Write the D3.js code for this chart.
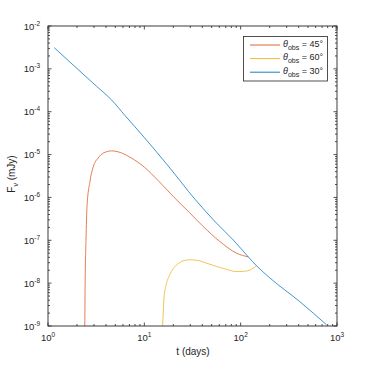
<!DOCTYPE html>
<html>
<head>
<meta charset="utf-8">
<script src="https://cdn.jsdelivr.net/npm/d3@7"></script>
<style>
  body { margin: 0; background: #fff; }
  text { font-family: "Liberation Sans", Arial, Helvetica, sans-serif; fill: #262626; }
</style>
</head>
<body>
<script>
// values (t in days, F in mJy)
const tBlue = [1.16, 2.0, 3.16, 4.57, 6.31, 10, 18.5, 33.5, 56.2, 83.6, 120, 146, 201, 411, 778];
const fBlue = [3.12e-3, 1.02e-3, 4.0e-4, 1.88e-4, 8.1e-5, 2.5e-5, 4.8e-6, 9.1e-7, 2.5e-7, 1.02e-7, 4.1e-8, 2.55e-8, 1.32e-8, 3.7e-9, 1.07e-9];

const tOrange = [2.41, 2.43, 2.48, 2.54, 2.73, 2.95, 3.31, 3.80, 4.57, 5.62, 7.08, 10, 14.1, 20.4, 29.5, 40.8, 60.3, 90.6, 119.7];
const fOrange = [1e-9, 1e-8, 1e-7, 6.2e-7, 2.4e-6, 5.2e-6, 8.3e-6, 1.1e-5, 1.22e-5, 1.12e-5, 8.7e-6, 5.1e-6, 2.4e-6, 1.0e-6, 4.4e-7, 2.1e-7, 9.5e-8, 5.0e-8, 4.1e-8];

const tYellow = [15.5, 15.7, 16.0, 16.8, 18.2, 20.0, 22.9, 26.3, 29.5, 35.5, 44.7, 56.2, 70.8, 90.6, 112, 126, 146];
const fYellow = [1e-9, 2.0e-9, 4.5e-9, 8.9e-9, 1.5e-8, 2.2e-8, 2.95e-8, 3.4e-8, 3.5e-8, 3.4e-8, 2.9e-8, 2.45e-8, 2.1e-8, 1.86e-8, 1.9e-8, 2.04e-8, 2.55e-8];

const xDecades = [0, 1, 2, 3];
const yDecades = [-9, -8, -7, -6, -5, -4, -3, -2];
const legendAngles = ["45", "60", "30"];

const width = 372;
const height = 366;
const plotL = 48, plotR = 337, plotT = 26, plotB = 326;

const svg = d3.select("body").append("svg")
    .attr("width", width)
    .attr("height", height);

const x = d3.scaleLog().domain([1, 1000]).range([plotL, plotR]);
const y = d3.scaleLog().domain([1e-9, 1e-2]).range([plotB, plotT]);

svg.append("clipPath").attr("id", "clip")
  .append("rect")
    .attr("x", plotL).attr("y", plotT)
    .attr("width", plotR - plotL).attr("height", plotB - plotT);

const line = d3.line()
    .x(d => x(d[0]))
    .y(d => y(d[1]))
    .curve(d3.curveMonotoneX);

const series = [
    { t: tOrange, f: fOrange, color: "#D95319" },
    { t: tYellow, f: fYellow, color: "#EDB120" },
    { t: tBlue, f: fBlue, color: "#0072BD" }
];

const plot = svg.append("g").attr("clip-path", "url(#clip)");
series.forEach(s => {
    plot.append("path")
        .datum(d3.zip(s.t, s.f))
        .attr("fill", "none")
        .attr("stroke", s.color)
        .attr("stroke-width", 0.75)
        .attr("d", line);
});

// ticks on all four sides, pointing inward
const axisG = svg.append("g").attr("stroke", "#262626").attr("stroke-width", 0.8);
const majorLen = 3.5, minorLen = 2;

xDecades.forEach((e, i) => {
    const v = Math.pow(10, e);
    [plotB, plotT].forEach(yy => {
        const dir = yy === plotB ? -1 : 1;
        axisG.append("line")
            .attr("x1", x(v)).attr("x2", x(v))
            .attr("y1", yy).attr("y2", yy + dir * majorLen);
        if (i < xDecades.length - 1) {
            for (let k = 2; k <= 9; k++) {
                axisG.append("line")
                    .attr("x1", x(k * v)).attr("x2", x(k * v))
                    .attr("y1", yy).attr("y2", yy + dir * minorLen);
            }
        }
    });
});

yDecades.forEach((e, i) => {
    const v = Math.pow(10, e);
    [plotL, plotR].forEach(xx => {
        const dir = xx === plotL ? 1 : -1;
        axisG.append("line")
            .attr("y1", y(v)).attr("y2", y(v))
            .attr("x1", xx).attr("x2", xx + dir * majorLen);
        if (i < yDecades.length - 1) {
            for (let k = 2; k <= 9; k++) {
                axisG.append("line")
                    .attr("y1", y(k * v)).attr("y2", y(k * v))
                    .attr("x1", xx).attr("x2", xx + dir * minorLen);
            }
        }
    });
});

svg.append("rect")
    .attr("x", plotL).attr("y", plotT)
    .attr("width", plotR - plotL).attr("height", plotB - plotT)
    .attr("fill", "none")
    .attr("stroke", "#262626")
    .attr("stroke-width", 0.9);

// tick labels
xDecades.forEach(e => {
    const t = svg.append("text")
        .attr("x", x(Math.pow(10, e)))
        .attr("y", 341)
        .attr("text-anchor", "middle")
        .style("font-size", "9.5px");
    t.append("tspan").text("10");
    t.append("tspan").attr("dy", -4).style("font-size", "6.5px").text(e);
});

yDecades.forEach(e => {
    const t = svg.append("text")
        .attr("x", 40)
        .attr("y", y(Math.pow(10, e)) + 3.5)
        .attr("text-anchor", "end")
        .style("font-size", "9.5px");
    t.append("tspan").text("10");
    t.append("tspan").attr("dy", -4).style("font-size", "6.5px").text(e);
});

// axis labels
svg.append("text")
    .attr("x", 193).attr("y", 355)
    .attr("text-anchor", "middle")
    .style("font-size", "10px")
    .text("t (days)");

const yl = svg.append("text")
    .attr("transform", "translate(15,174) rotate(-90)")
    .attr("text-anchor", "middle")
    .style("font-size", "10px");
yl.append("tspan").text("F");
yl.append("tspan").attr("dy", 2.5).style("font-size", "7px").text("ν");
yl.append("tspan").attr("dy", -2.5).text(" (mJy)");

// legend
const lg = svg.append("g");
lg.append("rect")
    .attr("x", 243.5).attr("y", 36.5)
    .attr("width", 84).attr("height", 44.5)
    .attr("fill", "#fff")
    .attr("stroke", "#262626")
    .attr("stroke-width", 0.8);

const legendColors = ["#D95319", "#EDB120", "#0072BD"];
legendAngles.forEach((a, i) => {
    const yy = 45 + i * 13.6;
    lg.append("line")
        .attr("x1", 250).attr("x2", 280)
        .attr("y1", yy).attr("y2", yy)
        .attr("stroke", legendColors[i])
        .attr("stroke-width", 0.9);
    const t = lg.append("text")
        .attr("x", 283).attr("y", yy + 1.5)
        .style("font-size", "9px");
    t.append("tspan").style("font-style", "italic").text("θ");
    t.append("tspan").attr("dy", 3).style("font-size", "7px").text("obs");
    t.append("tspan").attr("dy", -3).text(" = " + a + "°");
});
</script>
</body>
</html>
